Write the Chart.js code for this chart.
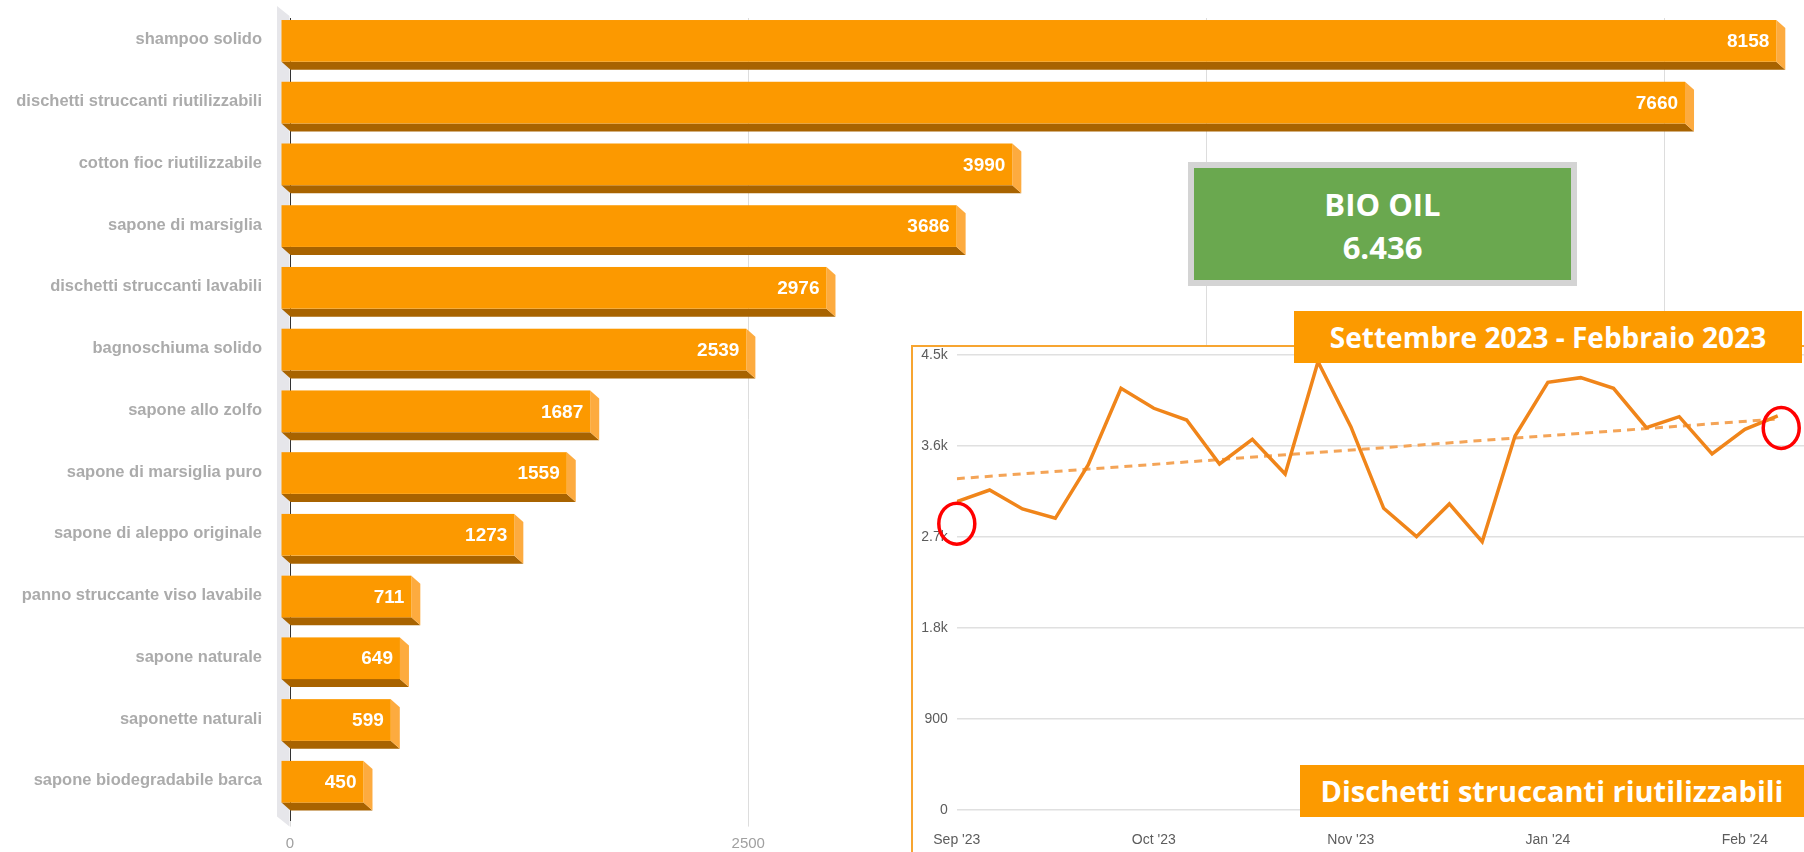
<!DOCTYPE html>
<html>
<head>
<meta charset="utf-8">
<script src="https://cdn.jsdelivr.net/npm/chart.js@4.4.1/dist/chart.umd.min.js"></script>
<style>
  html, body { margin: 0; padding: 0; background: #fff; }
  body { width: 1804px; height: 852px; position: relative; overflow: hidden; font-family: "Open Sans", sans-serif; }
  #bar-wrap { position: absolute; left: 0; top: 0; width: 1804px; height: 852px; }
  #line-wrap { position: absolute; left: 911px; top: 345px; width: 893px; height: 507px; background: #fff;
    border-left: 2px solid #f7a531; border-top: 2px solid #f7a531; box-sizing: border-box; }
  #line-inner { position: relative; width: 891px; height: 505px; }
  .tag { position: absolute; background: #fc9a00; color: #fff; font-weight: 700; white-space: nowrap; text-align: center; }
  #period { left: 1294px; top: 311px; width: 508px; height: 52px; line-height: 52px; font-size: 28px; }
  #product { left: 1300px; top: 765px; width: 504px; height: 52px; line-height: 52px; font-size: 29px; }
  #bio { position: absolute; left: 1188px; top: 162px; width: 389px; height: 124px; box-sizing: border-box;
    background: #6aa84f; border: 6px solid #d4d4d4; color: #fff; font-weight: 700; font-size: 31px;
    line-height: 43px; text-align: center; padding-top: 15px; }
</style>
</head>
<body>
<div id="bar-wrap"><canvas id="bar-chart"></canvas></div>
<div id="bio">BIO OIL<br>6.436</div>
<div id="line-wrap"><div id="line-inner"><canvas id="trend-chart"></canvas></div></div>
<div class="tag" id="period">Settembre 2023 - Febbraio 2023</div>
<div class="tag" id="product">Dischetti struccanti riutilizzabili</div>
<script>
// Bar chart data (monthly searches per product)
const products = [
  'shampoo solido',
  'dischetti struccanti riutilizzabili',
  'cotton fioc riutilizzabile',
  'sapone di marsiglia',
  'dischetti struccanti lavabili',
  'bagnoschiuma solido',
  'sapone allo zolfo',
  'sapone di marsiglia puro',
  'sapone di aleppo originale',
  'panno struccante viso lavabile',
  'sapone naturale',
  'saponette naturali',
  'sapone biodegradabile barca'
];
const searches = [8158, 7660, 3990, 3686, 2976, 2539, 1687, 1559, 1273, 711, 649, 599, 450];
const barTicks = [0, 2500, 5000, 7500];

// Weekly trend for "dischetti struccanti riutilizzabili"
const weekLabels = ["Sep '23", '', '', '', '', '', "Oct '23", '', '', '', '', '', "Nov '23", '', '', '', '', '',
  "Jan '24", '', '', '', '', '', "Feb '24", ''];
const weekly = [3049, 3165, 2977, 2885, 3412, 4171, 3973, 3857, 3422, 3666, 3323, 4434, 3791,
  2984, 2703, 3027, 2654, 3699, 4230, 4276, 4171, 3781, 3890, 3521, 3765, 3897];
const trendStart = 3277;
const trendEnd = 3867;
const yTickLabels = ['0', '900', '1.8k', '2.7k', '3.6k', '4.5k'];

// 3D look for the bars: front face shifted up-left, depth faces below/right
const DX = 9, DY = 8;

const bar3d = {
  id: 'bar3d',
  beforeDatasetsDraw(chart) {
    // light grey side wall left of the axis
    const { ctx, chartArea } = chart;
    ctx.save();
    ctx.fillStyle = '#e6e6ea';
    ctx.beginPath();
    ctx.moveTo(chartArea.left - 13, chartArea.top - 12);
    ctx.lineTo(chartArea.left - 0.5, chartArea.top - 2);
    ctx.lineTo(chartArea.left - 0.5, chartArea.bottom + 6);
    ctx.lineTo(chartArea.left - 13, chartArea.bottom - 4);
    ctx.closePath();
    ctx.fill();
    ctx.restore();
  },
  afterDatasetsDraw(chart) {
    const { ctx } = chart;
    const meta = chart.getDatasetMeta(0);
    ctx.save();
    meta.data.forEach((bar, i) => {
      const { x, y, base, height } = bar.getProps(['x', 'y', 'base', 'height'], true);
      const l = base - DX, r = x - DX;
      const t = y - height / 2 - DY, b = y + height / 2 - DY;
      // bottom face
      ctx.fillStyle = '#a86300';
      ctx.beginPath();
      ctx.moveTo(l, b); ctx.lineTo(r, b); ctx.lineTo(r + DX, b + DY); ctx.lineTo(l + DX, b + DY);
      ctx.closePath(); ctx.fill();
      // right face
      ctx.fillStyle = '#fdab3f';
      ctx.beginPath();
      ctx.moveTo(r, t); ctx.lineTo(r + DX, t + DY); ctx.lineTo(r + DX, b + DY); ctx.lineTo(r, b);
      ctx.closePath(); ctx.fill();
      // front face
      ctx.fillStyle = '#fc9900';
      ctx.fillRect(l, t, r - l, b - t);
      // value label
      ctx.fillStyle = '#fff';
      ctx.font = 'bold 19px "Liberation Sans", Arial, sans-serif';
      ctx.textAlign = 'right';
      ctx.textBaseline = 'middle';
      ctx.fillText(String(searches[i]), r - 7, (t + b) / 2 + 1);
    });
    ctx.restore();
  }
};

new Chart(document.getElementById('bar-chart'), {
  type: 'bar',
  data: {
    labels: products,
    datasets: [{
      data: searches,
      backgroundColor: 'rgba(0,0,0,0)',
      barThickness: 41.7
    }]
  },
  options: {
    indexAxis: 'y',
    responsive: true,
    maintainAspectRatio: false,
    animation: false,
    layout: { padding: { top: 18, left: 0, right: 0, bottom: 0 } },
    plugins: { legend: { display: false }, tooltip: { enabled: false } },
    scales: {
      y: {
        afterFit(scale) { scale.width = 290; scale.paddingTop = 0; scale.paddingBottom = 0; },
        grid: { display: false, drawTicks: false },
        border: { display: true, color: '#333', width: 1 },
        ticks: {
          color: '#ababab',
          font: { family: '"Liberation Sans", Arial, sans-serif', weight: 'bold', size: 16.5 },
          padding: 28,
          labelOffset: -9
        }
      },
      x: {
        min: 0,
        max: 8260,
        afterFit(scale) { scale.height = 31.4; },
        afterBuildTicks(scale) { scale.ticks = barTicks.map(v => ({ value: v })); },
        grid: { color: '#dddddd', tickLength: 6 },
        border: { display: false },
        ticks: {
          color: '#a0a0a0',
          font: { family: '"Liberation Sans", Arial, sans-serif', size: 15 },
          padding: 8,
          callback: (v) => String(v)
        }
      }
    }
  },
  plugins: [bar3d]
});

// Red circles around first and last week
const highlight = {
  id: 'highlight',
  afterDatasetsDraw(chart) {
    const { ctx } = chart;
    const pts = chart.getDatasetMeta(0).data;
    const first = pts[0], last = pts[pts.length - 1];
    ctx.save();
    ctx.strokeStyle = '#ff0000';
    ctx.lineWidth = 3.5;
    [[first.x, first.y + 22], [last.x + 3.5, last.y + 12]].forEach(([cx, cy]) => {
      ctx.beginPath();
      ctx.ellipse(cx, cy, 18, 20.5, 0, 0, Math.PI * 2);
      ctx.stroke();
    });
    ctx.restore();
  }
};

new Chart(document.getElementById('trend-chart'), {
  type: 'line',
  data: {
    datasets: [
      {
        data: weekly.map((v, i) => ({ x: i, y: v })),
        borderColor: '#f0851a',
        borderWidth: 3.5,
        pointRadius: 0,
        tension: 0
      },
      {
        data: [{ x: 0, y: trendStart }, { x: weekly.length - 1, y: trendEnd }],
        borderColor: '#f4a457',
        borderWidth: 3,
        borderDash: [8, 6],
        pointRadius: 0
      }
    ]
  },
  options: {
    responsive: true,
    maintainAspectRatio: false,
    animation: false,
    layout: { padding: { top: 8, left: 0, right: 0, bottom: 0 } },
    plugins: { legend: { display: false }, tooltip: { enabled: false } },
    scales: {
      x: {
        type: 'linear',
        min: 0,
        max: 25.8,
        afterFit(scale) { scale.height = 42; scale.paddingLeft = 0; scale.paddingRight = 0; },
        afterBuildTicks(scale) {
          scale.ticks = weekLabels.map((l, i) => l ? { value: i } : null).filter(Boolean);
        },
        grid: { display: false },
        border: { display: false },
        ticks: {
          autoSkip: false,
          maxRotation: 0,
          padding: 14,
          color: '#5c5c5c',
          font: { family: '"Liberation Sans", Arial, sans-serif', size: 14 },
          callback: (v) => weekLabels[v]
        }
      },
      y: {
        min: 0,
        max: 4500,
        afterFit(scale) { scale.width = 43.8; scale.paddingTop = 0; scale.paddingBottom = 0; },
        grid: { color: '#e0e0e0', lineWidth: 1.5, drawTicks: false },
        border: { display: false },
        ticks: {
          stepSize: 900,
          padding: 9,
          color: '#5c5c5c',
          font: { family: '"Liberation Sans", Arial, sans-serif', size: 14 },
          callback: (v, i) => yTickLabels[i]
        }
      }
    }
  },
  plugins: [highlight]
});
</script>
</body>
</html>
